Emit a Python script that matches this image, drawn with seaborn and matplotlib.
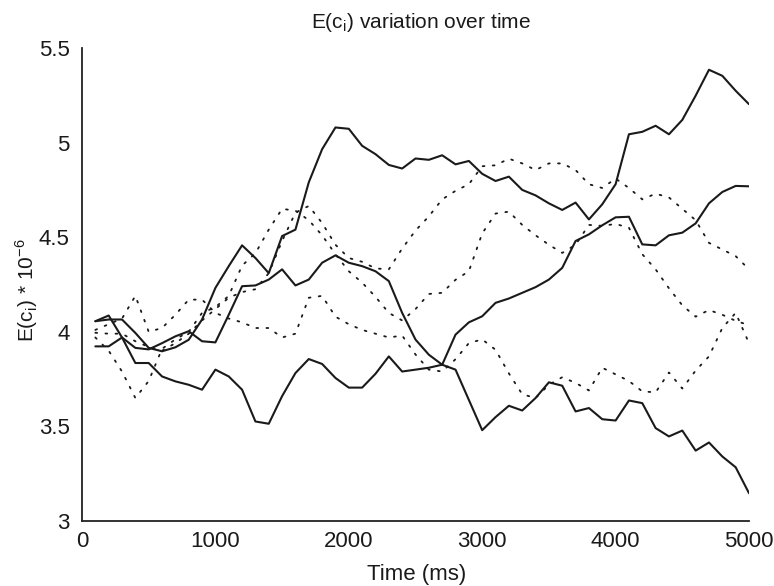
import matplotlib
matplotlib.use("Agg")
import matplotlib.pyplot as plt
import seaborn as sns
import pandas as pd

# ---- data (sample times in ms) ----
times = list(range(100, 5001, 100))

solid_a = [4.056, 4.065, 4.065, 3.994, 3.915, 3.897, 3.918, 3.958, 4.065, 4.232,
           4.347, 4.457, 4.390, 4.310, 4.506, 4.540, 4.790, 4.965, 5.080, 5.073,
           4.983, 4.939, 4.882, 4.863, 4.916, 4.909, 4.933, 4.885, 4.903, 4.835,
           4.797, 4.820, 4.750, 4.721, 4.679, 4.644, 4.683, 4.594, 4.674, 4.780,
           5.044, 5.057, 5.089, 5.044, 5.120, 5.248, 5.385, 5.353, 5.274, 5.203]

solid_b = [3.923, 3.923, 3.970, 3.915, 3.907, 3.940, 3.976, 4.003, 3.950, 3.944,
           4.090, 4.241, 4.245, 4.276, 4.330, 4.245, 4.276, 4.365, 4.404, 4.365,
           4.347, 4.320, 4.268, 4.100, 3.959, 3.879, 3.826, 3.800, 3.640, 3.480,
           3.549, 3.609, 3.584, 3.650, 3.733, 3.715, 3.579, 3.597, 3.538, 3.531,
           3.637, 3.623, 3.491, 3.447, 3.478, 3.372, 3.415, 3.341, 3.284, 3.147]

solid_c = [4.056, 4.086, 3.970, 3.835, 3.835, 3.764, 3.738, 3.720, 3.694, 3.800,
           3.764, 3.694, 3.526, 3.514, 3.660, 3.782, 3.856, 3.830, 3.756, 3.705,
           3.705, 3.778, 3.870, 3.790, 3.800, 3.810, 3.826, 3.985, 4.050, 4.082,
           4.153, 4.176, 4.206, 4.236, 4.276, 4.338, 4.480, 4.515, 4.563, 4.605,
           4.608, 4.462, 4.457, 4.510, 4.524, 4.573, 4.679, 4.739, 4.771, 4.769]

dotted_a = [4.01, 4.04, 4.07, 4.19, 4.00, 4.02, 4.09, 4.17, 4.17, 4.10,
            4.07, 4.05, 4.02, 4.02, 3.97, 3.99, 4.18, 4.19, 4.08, 4.04,
            4.01, 3.99, 3.97, 3.98, 3.88, 3.80, 3.79, 3.855, 3.94, 3.96,
            3.905, 3.78, 3.67, 3.65, 3.72, 3.76, 3.73, 3.69, 3.81, 3.775,
            3.74, 3.685, 3.68, 3.785, 3.70, 3.795, 3.87, 4.02, 4.10, 3.94]

dotted_b = [3.97, 3.90, 3.79, 3.65, 3.74, 3.91, 3.96, 4.00, 4.10, 4.13,
            4.19, 4.35, 4.415, 4.54, 4.65, 4.64, 4.59, 4.51, 4.41, 4.32,
            4.26, 4.185, 4.10, 4.06, 4.12, 4.20, 4.206, 4.275, 4.32, 4.52,
            4.625, 4.635, 4.565, 4.51, 4.46, 4.417, 4.46, 4.565, 4.56, 4.57,
            4.55, 4.41, 4.33, 4.23, 4.14, 4.08, 4.115, 4.09, 4.058, 4.035]

dotted_c = [3.995, 3.99, 3.99, 3.95, 3.92, 3.90, 3.94, 3.99, 4.06, 4.12,
            4.18, 4.21, 4.225, 4.31, 4.48, 4.63, 4.665, 4.575, 4.46, 4.39,
            4.37, 4.335, 4.33, 4.44, 4.535, 4.61, 4.70, 4.745, 4.78, 4.875,
            4.88, 4.915, 4.89, 4.855, 4.89, 4.89, 4.855, 4.78, 4.76, 4.81,
            4.76, 4.70, 4.73, 4.71, 4.65, 4.59, 4.47, 4.435, 4.40, 4.33]

x_ticks = [0, 1000, 2000, 3000, 4000, 5000]
y_ticks = [3, 3.5, 4, 4.5, 5, 5.5]
y_tick_labels = ["3", "3.5", "4", "4.5", "5", "5.5"]

title_text = r"E(c$_\mathregular{i}$) variation over time"
x_label = "Time (ms)"
y_label = r"E(c$_\mathregular{i}$) * 10$^\mathregular{-6}$"

# ---- style ----
sns.set_style("white")
plt.rcParams["font.family"] = ["Liberation Sans Narrow", "Liberation Sans", "DejaVu Sans"]
plt.rcParams["axes.edgecolor"] = "#222222"

fig = plt.figure(figsize=(7.74, 5.86), dpi=100)
ax = fig.add_axes([82 / 774, 65 / 586, 667 / 774, 473 / 586])

series = [(solid_a, "solid"), (solid_b, "solid"), (solid_c, "solid"),
          (dotted_a, "dotted"), (dotted_b, "dotted"), (dotted_c, "dotted")]

for vals, kind in series:
    df = pd.DataFrame({"time": times, "value": vals})
    if kind == "solid":
        sns.lineplot(data=df, x="time", y="value", ax=ax, color="#1a1a1a",
                     linewidth=1.5, estimator=None, sort=False)
    else:
        line = sns.lineplot(data=df, x="time", y="value", ax=ax, color="#1a1a1a",
                            linewidth=1.3, estimator=None, sort=False)
        line.lines[-1].set_linestyle((0, (1, 4.6)))
        line.lines[-1].set_dash_capstyle("round")

ax.set_xlim(0, 5000)
ax.set_ylim(3, 5.5)
ax.set_xticks(x_ticks)
ax.set_xticklabels([str(t) for t in x_ticks])
ax.set_yticks(y_ticks)
ax.set_yticklabels(y_tick_labels)
ax.set_xlabel("")
ax.set_ylabel("")

for side in ["top", "right"]:
    ax.spines[side].set_visible(False)
for side in ["left", "bottom"]:
    ax.spines[side].set_linewidth(1.3)

ax.tick_params(axis="both", direction="in", length=5, width=1.2,
               labelsize=16, colors="#1a1a1a")
ax.tick_params(axis="x", pad=7)
ax.tick_params(axis="y", pad=9)

fig.text(421 / 774, 1 - 28 / 586, title_text, ha="center", va="baseline",
         fontsize=15, color="#1a1a1a")
fig.text(417 / 774, 1 - 580 / 586, x_label, ha="center", va="baseline",
         fontsize=16, color="#1a1a1a")
fig.text(27 / 774, 1 - 290 / 586, y_label, ha="center", va="center",
         rotation=90, fontsize=15, color="#1a1a1a")

fig.savefig("out.png", dpi=100, facecolor="white")
